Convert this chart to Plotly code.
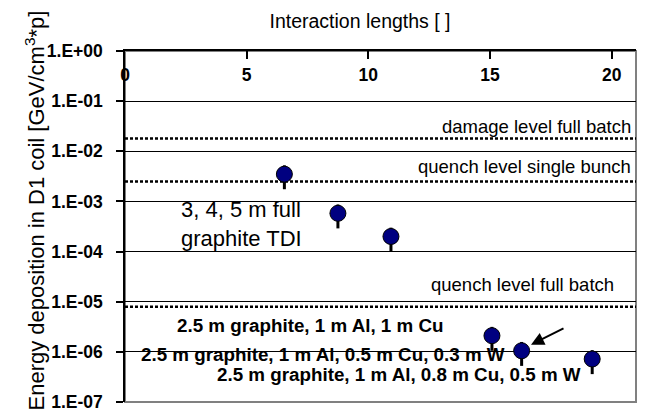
import plotly.graph_objects as go

# ---- data ----
interaction_lengths = [6.55, 8.75, 10.93, 15.08, 16.3, 19.2]
energy_deposition = [3.5e-3, 5.8e-4, 2.0e-4, 2.1e-6, 1.05e-6, 7.2e-7]
error_percent = 50

threshold_levels = [1.8e-2, 2.5e-3, 7.9e-6]
threshold_labels = ["damage level full batch", "quench level single bunch", "quench level full batch"]

x_range = [0, 21]
x_tickvals = [0, 5, 10, 15, 20]
y_tickvals = [1e0, 1e-1, 1e-2, 1e-3, 1e-4, 1e-5, 1e-6, 1e-7]
y_ticktext = ["1.E+00", "1.E-01", "1.E-02", "1.E-03", "1.E-04", "1.E-05", "1.E-06", "1.E-07"]

FONT = "Arial, Liberation Sans, sans-serif"

fig = go.Figure()

for lvl in threshold_levels:
    fig.add_trace(go.Scatter(
        x=x_range, y=[lvl, lvl], mode="lines",
        line=dict(color="black", width=2.5, dash="3px,2px"),
        showlegend=False, hoverinfo="skip", cliponaxis=False))

fig.add_trace(go.Scatter(
    x=interaction_lengths, y=energy_deposition, mode="markers",
    marker=dict(size=16, color="#000080", line=dict(color="black", width=1)),
    error_y=dict(type="percent", value=error_percent, color="black", thickness=3, width=0),
    showlegend=False))

W, H = 648, 415
L, R, T, B = 117, 20, 43, 11
pw, ph = W - L - R, H - T - B


def px(x):
    return (x - L) / pw


def py(y):
    return (H - B - y) / ph


annotations = []
# threshold labels
label_pos = [(625, 121), (625, 162), (608, 283)]
for txt, (xx, yy) in zip(threshold_labels, label_pos):
    annotations.append(dict(text=txt, x=px(xx), y=py(yy), xref="paper", yref="paper",
                            xanchor="right", yanchor="middle", showarrow=False,
                            font=dict(size=18.5, family=FONT, color="black")))

annotations.append(dict(text="3, 4, 5 m full<br>graphite TDI", x=px(171), y=py(221),
                        xref="paper", yref="paper", xanchor="left", yanchor="middle",
                        align="left", showarrow=False,
                        font=dict(size=22, family=FONT, color="black")))

bold_texts = [("2.5 m graphite, 1 m Al, 1 m Cu", 167, 325),
              ("2.5 m graphite, 1 m Al, 0.5 m Cu, 0.3 m W", 131, 355),
              ("2.5 m graphite, 1 m Al, 0.8 m Cu, 0.5 m W", 207, 376)]
for txt, xx, yy in bold_texts:
    annotations.append(dict(text="<b>" + txt + "</b>", x=px(xx), y=py(yy), xref="paper", yref="paper",
                            xanchor="left", yanchor="middle", showarrow=False,
                            font=dict(size=18.8, family=FONT, color="black")))

# arrow
annotations.append(dict(text="", x=px(523), y=py(345), xref="paper", yref="paper",
                        showarrow=True, arrowhead=2, arrowsize=1.3, arrowwidth=2,
                        arrowcolor="black", ax=34, ay=-17))

# y axis title
annotations.append(dict(text="Energy deposition in D1 coil [GeV/cm<sup>3</sup>*p]",
                        x=px(27), y=py(207), xref="paper", yref="paper",
                        xanchor="center", yanchor="middle", textangle=-90, showarrow=False,
                        font=dict(size=22, family=FONT, color="black")))

fig.update_layout(
    width=W, height=H,
    margin=dict(l=L, r=R, t=T, b=B, pad=0),
    paper_bgcolor="white", plot_bgcolor="white",
    font=dict(family=FONT, color="black"),
    title=dict(text="Interaction lengths [ ]", x=352 / W, xref="container", xanchor="center",
               y=1 - 13 / H, yref="container", yanchor="middle",
               font=dict(size=19.5, family=FONT, color="black")),
    xaxis=dict(range=x_range, side="top", tickvals=x_tickvals, ticks="inside", ticklen=8,
               tickcolor="black", tickwidth=1.5, showline=True, linecolor="black", linewidth=1.5,
               showgrid=False, zeroline=False, ticklabelposition="inside",
               ticklabeloverflow="allow", ticklabelstandoff=10,
               tickfont=dict(size=17.5, family=FONT, color="black", weight="bold")),
    yaxis=dict(type="log", range=[-7, 0], tickvals=y_tickvals, ticktext=y_ticktext,
               ticks="outside", ticklen=7, tickcolor="black", tickwidth=1.5,
               showline=True, linecolor="black", linewidth=1.5,
               showgrid=True, gridcolor="black", gridwidth=1, zeroline=False,
               ticklabelstandoff=10,
               tickfont=dict(size=17.5, family=FONT, color="black", weight="bold")),
    shapes=[dict(type="rect", xref="paper", yref="paper", x0=0, x1=1, y0=0, y1=1,
                 line=dict(color="#808080", width=2), layer="between")],
    annotations=annotations,
)

fig.write_html("out.html")
